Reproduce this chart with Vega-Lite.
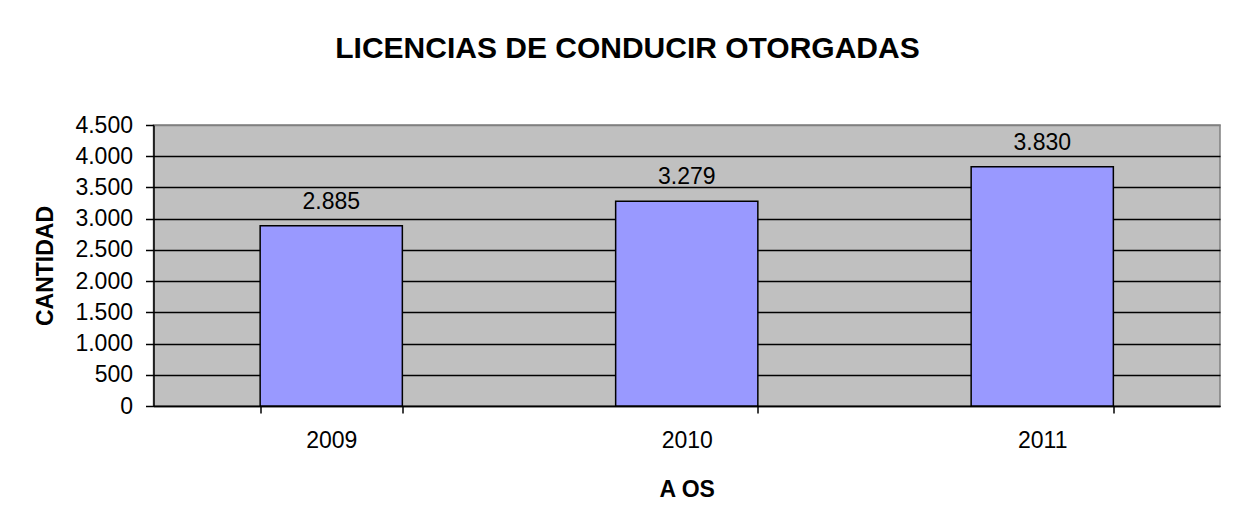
{
  "$schema": "https://vega.github.io/schema/vega-lite/v6.json",
  "autosize": {"type": "none"},
  "width": 1066.5,
  "height": 281,
  "padding": {"left": 153.5, "top": 125, "right": 18, "bottom": 120},
  "background": "white",
  "title": {
    "text": "LICENCIAS DE CONDUCIR OTORGADAS",
    "anchor": "middle",
    "frame": "bounds",
    "font": "Liberation Sans",
    "fontSize": 30,
    "fontWeight": "bold",
    "color": "black",
    "offset": 50
  },
  "config": {
    "locale": {"number": {"decimal": ",", "thousands": ".", "grouping": [3], "currency": ["", ""]}},
    "view": {"fill": "#C0C0C0", "stroke": "#808080", "strokeWidth": 1.5},
    "axis": {
      "labelFont": "Liberation Sans",
      "titleFont": "Liberation Sans",
      "labelColor": "black",
      "titleColor": "black",
      "domainColor": "black",
      "tickColor": "black",
      "domainWidth": 1.5,
      "tickWidth": 1.5
    }
  },
  "data": {
    "values": [
      {"anio": "2009", "cantidad": 2885},
      {"anio": "2010", "cantidad": 3279},
      {"anio": "2011", "cantidad": 3830}
    ]
  },
  "encoding": {
    "x": {
      "field": "anio",
      "type": "ordinal",
      "scale": {"paddingInner": 0.6, "paddingOuter": 0.3},
      "axis": {
        "title": "A OS",
        "titleFontSize": 23,
        "titleFontWeight": "bold",
        "titlePadding": 26,
        "labelFontSize": 23,
        "labelAngle": 0,
        "labelPadding": 16,
        "tickBand": "extent",
        "tickSize": 7,
        "grid": false
      }
    },
    "y": {
      "field": "cantidad",
      "type": "quantitative",
      "scale": {"domain": [0, 4500], "nice": false},
      "axis": {
        "title": "CANTIDAD",
        "titleFontSize": 23,
        "titleFontWeight": "bold",
        "titlePadding": 17,
        "labelFontSize": 23,
        "labelPadding": 13,
        "tickSize": 8,
        "values": [0, 500, 1000, 1500, 2000, 2500, 3000, 3500, 4000, 4500],
        "format": ",d",
        "grid": true,
        "gridColor": {"condition": {"test": "datum.value == 4500", "value": "#808080"}, "value": "black"},
        "gridOpacity": 1,
        "gridWidth": 1.5
      }
    }
  },
  "layer": [
    {
      "mark": {"type": "bar", "fill": "#9999FF", "stroke": "black", "strokeWidth": 1.5}
    },
    {
      "mark": {"type": "text", "baseline": "alphabetic", "dy": -17, "font": "Liberation Sans", "fontSize": 23, "color": "black"},
      "encoding": {"text": {"field": "cantidad", "type": "quantitative", "format": ",d"}}
    }
  ]
}
